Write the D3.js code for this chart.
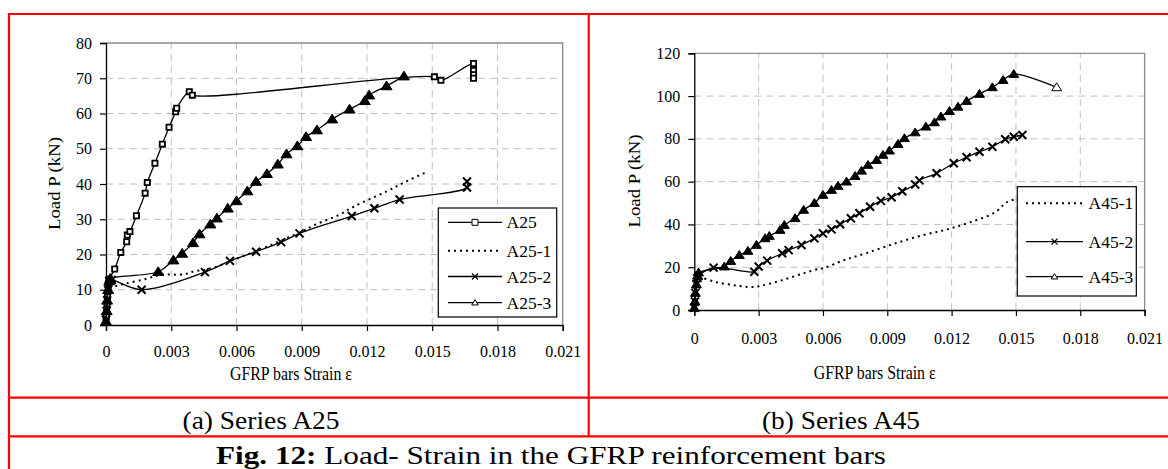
<!DOCTYPE html>
<html><head><meta charset="utf-8">
<script src="https://cdn.jsdelivr.net/npm/d3@7"></script>
<style>
html,body{margin:0;padding:0;background:#fff;}
svg{display:block;}
svg text{font-family:"Liberation Serif","Times New Roman",serif;}
</style></head>
<body>
<svg id="c" width="1168" height="469"></svg>
<script>
// ---------- DATA ----------
const xTicks = [0, 0.003, 0.006, 0.009, 0.012, 0.015, 0.018, 0.021];
const xTickLabels = ["0", "0.003", "0.006", "0.009", "0.012", "0.015", "0.018", "0.021"];
const yTicksA25 = [0, 10, 20, 30, 40, 50, 60, 70, 80];
const yTicksA45 = [0, 20, 40, 60, 80, 100, 120];

const seriesNamesA25 = ["A25", "A25-1", "A25-2", "A25-3"];
const seriesNamesA45 = ["A45-1", "A45-2", "A45-3"];

const A25_strain = [0,0.00002,0.00003,0.00005,0.00007,0.0001,0.00012,0.00015,0.0004,0.00068,0.00095,0.00098,0.0011,0.0014,0.0018,0.0019,0.00225,0.00259,0.0029,0.0032,0.00325,0.00383,0.00397,0.0151,0.0154,0.0169,0.0169,0.0169,0.0169];
const A25_load   = [1,2.5,4,6,8,10,12,13,15.9,20.6,23.6,25.5,26.5,31,37.4,40.4,45.9,51.3,56.1,60.5,61.5,66.2,65.2,70.4,69.4,74.2,72.2,71,70];

const A25_1_strain = [0,0.00003,0.00005,0.0001,0.0002,0.0004,0.0009,0.0018,0.0025,0.0036,0.0041,0.0047,0.006,0.0075,0.009,0.0096,0.0107,0.0114,0.0129,0.0137,0.0146,0.0148];
const A25_1_load   = [2,5,8,11,12,11.1,11.8,13,14.2,14.4,15.3,15.8,18.8,22.5,26.5,28.4,31.2,33.6,37.9,40.4,43,43.5];

const A25_2_strain = [0,0.00003,0.00005,0.0001,0.00015,0.00026,0.00164,0.00455,0.0057,0.0069,0.00805,0.0089,0.0113,0.01234,0.0135,0.0166,0.0166];
const A25_2_load   = [1.5,4,7,10,12.5,12.8,10,15,18.2,20.8,23.5,26,30.9,33.1,35.6,39,40.7];

const A25_3_strain = [0,0.00003,0.00005,0.0001,0.00015,0.0002,0.0024,0.0031,0.0035,0.004,0.0043,0.0048,0.0051,0.0056,0.006,0.0065,0.0069,0.0074,0.0079,0.0083,0.0088,0.0092,0.0097,0.0104,0.0112,0.0119,0.0121,0.0129,0.0137];
const A25_3_load   = [1,4,7,10,12.5,13.2,15.1,18.4,20.3,23.3,25.8,28.6,30.3,33.1,35.2,38,40.7,42.9,45.6,48.5,50.8,53.4,55.3,58.4,61.2,63.6,65.2,67.8,70.6];

const A45_1_strain = [0,0.00003,0.00005,0.0001,0.0002,0.0011,0.002,0.0027,0.0036,0.0056,0.0061,0.007,0.008,0.0093,0.0107,0.0118,0.0128,0.014,0.0146,0.015];
const A45_1_load   = [1,4,8,12,14.8,12.8,11.4,10.7,12.5,18.7,19.8,23.4,26.5,30.9,35.1,37.7,40.8,45.5,50.6,51.8];

const A45_2_strain = [0,0.00003,0.00005,0.0001,0.00015,0.0002,0.0009,0.0028,0.003,0.0034,0.0041,0.0044,0.005,0.0056,0.006,0.0064,0.0068,0.0073,0.0077,0.0082,0.0087,0.0092,0.0097,0.0103,0.0105,0.0113,0.0121,0.0127,0.0133,0.0139,0.0145,0.0149,0.0153];
const A45_2_load   = [1,4,8,12,15,16,19.8,17.9,20.3,23.1,26.5,28,30.4,33.5,35.8,37.7,40.1,42.9,45.2,48.3,51,52.7,55.5,58.7,60.6,63.9,68.6,71.4,74,76.3,79.8,81,81.8];

const A45_3_strain = [0,0.00003,0.00005,0.0001,0.00015,0.0002,0.0014,0.0017,0.0021,0.0025,0.0029,0.0033,0.0035,0.004,0.0042,0.0047,0.0051,0.0056,0.006,0.0064,0.0067,0.0071,0.0075,0.0078,0.0081,0.0085,0.0088,0.0091,0.0095,0.0098,0.0103,0.0108,0.0112,0.0115,0.0119,0.0123,0.0127,0.0133,0.0139,0.0144,0.0149,0.0169];
const A45_3_load   = [1,4,8,12,16,17.5,20.3,22.9,25.7,27.6,30.4,33.5,34.6,37.4,39.7,42.9,46.8,50,53.8,56.1,58,60,62.6,65.1,67.8,70.1,72.5,74.5,77.6,80.3,83,85.7,87.7,90.4,93,95,97.7,101,104.1,107.5,110.3,104.1];

// ---------- DRAWING ----------
const svg = d3.select("#c");
const RED = "#ff0000";
const FONT = "Liberation Serif";

function zip(xs, ys){ return xs.map((x,i)=>[x, ys[i]]); }

function markerPath(type, s){
  if(type==="square") return `M${-s},${-s}h${2*s}v${2*s}h${-2*s}Z`;
  if(type==="triangle") return `M0,${-s}L${s*1.1},${s*0.75}L${-s*1.1},${s*0.75}Z`;
  if(type==="x") return `M${-s},${-s}L${s},${s}M${-s},${s}L${s},${-s}`;
  return "";
}
function drawMarker(g, type, x, y, s, hollow){
  const p = g.append("path").attr("d", markerPath(type, s)).attr("transform", `translate(${x},${y})`)
    .attr("stroke", "#000");
  if(type==="square"){ p.attr("fill","#fff").attr("stroke-width", hollow?1:1.8); }
  else if(type==="triangle"){ p.attr("fill", hollow?"#fff":"#000").attr("stroke-width",1); }
  else { p.attr("fill","none").attr("stroke-width", hollow?1.2:2); }
}

function chart(cfg){
  const x = d3.scaleLinear().domain([0,0.021]).range([cfg.x0, cfg.x1]);
  const y = d3.scaleLinear().domain([0, cfg.ymax]).range([cfg.y0, cfg.y1]);
  const g = svg.append("g");

  // grid
  g.append("g").selectAll("line").data(cfg.yTicks.slice(1, -1)).join("line")
    .attr("x1", cfg.x0).attr("x2", cfg.x1).attr("y1", d=>y(d)).attr("y2", d=>y(d))
    .attr("stroke", "#c0c0c0").attr("stroke-width", 1).attr("stroke-dasharray", "7,5");
  g.append("g").selectAll("line").data(xTicks.slice(1, -1)).join("line")
    .attr("x1", d=>x(d)).attr("x2", d=>x(d)).attr("y1", cfg.y0).attr("y2", cfg.y1)
    .attr("stroke", "#c0c0c0").attr("stroke-width", 1).attr("stroke-dasharray", "7,5");

  // frame top/right
  g.append("path").attr("d", `M${cfg.x0},${cfg.y1}H${cfg.x1}V${cfg.y0}`)
    .attr("fill","none").attr("stroke","#8a8a8a").attr("stroke-width",1.3);

  // axes
  const ax = g.append("g").attr("transform", `translate(0,${cfg.y0})`)
    .call(d3.axisBottom(x).tickValues(xTicks).tickFormat((d,i)=>xTickLabels[i]).tickSizeOuter(0).tickSize(6).tickPadding(cfg.xPad));
  ax.attr("font-family", FONT);
  ax.select(".domain").attr("stroke","#000").attr("stroke-width",1.3);
  ax.selectAll(".tick line").attr("stroke","#000").attr("stroke-width",1.2);
  ax.selectAll(".tick text").attr("font-family",FONT).attr("font-size",16).attr("fill","#000");

  const ay = g.append("g").attr("transform", `translate(${cfg.x0},0)`)
    .call(d3.axisLeft(y).tickValues(cfg.yTicks).tickSizeOuter(0).tickSize(6).tickPadding(8));
  ay.attr("font-family", FONT);
  ay.select(".domain").attr("stroke","#000").attr("stroke-width",1.3);
  ay.selectAll(".tick line").attr("stroke","#000").attr("stroke-width",1.2);
  ay.selectAll(".tick text").attr("font-family",FONT).attr("font-size",16).attr("fill","#000");

  // series
  const line = d3.line().x(d=>x(d[0])).y(d=>y(d[1])).curve(d3.curveCatmullRom.alpha(0.5));
  cfg.series.forEach(s=>{
    const pts = zip(s.xs, s.ys);
    g.append("path").attr("d", line(pts)).attr("fill","none").attr("stroke","#000")
      .attr("stroke-width", s.dotted?2:1.3).attr("stroke-dasharray", s.dotted?"2,4":null);
    if(s.marker){
      const mg = g.append("g");
      pts.forEach((p,i)=>drawMarker(mg, s.marker, x(p[0]), y(p[1]), s.msize, s.hollowLast && i===pts.length-1));
    }
  });

  // legend
  const L = cfg.legend;
  const lg = g.append("g");
  lg.append("rect").attr("x",L.x).attr("y",L.y).attr("width",L.w).attr("height",L.h)
    .attr("fill","#fff").attr("stroke","#000").attr("stroke-width",1.2);
  cfg.series.forEach((s,i)=>{
    const yy = L.rows[i];
    lg.append("line").attr("x1",L.lx1).attr("x2",L.lx2).attr("y1",yy).attr("y2",yy)
      .attr("stroke","#000").attr("stroke-width", s.dotted?2:1.3).attr("stroke-dasharray", s.dotted?"2,4":null);
    if(s.marker) drawMarker(lg, s.marker, (L.lx1+L.lx2)/2, yy, 3, true);
    lg.append("text").attr("x",L.tx).attr("y",yy).attr("dy","0.35em").attr("font-family",FONT)
      .attr("font-size",17.5).text(s.name);
  });

  // axis titles
  g.append("text").attr("x", cfg.xt[0]).attr("y", cfg.xt[1]).attr("text-anchor","middle").attr("font-family",FONT)
    .attr("font-size",18).attr("textLength",122).attr("lengthAdjust","spacingAndGlyphs")
    .text("GFRP bars Strain ε");
  g.append("text").attr("transform", `translate(${cfg.yt[0]},${cfg.yt[1]}) rotate(-90)`)
    .attr("text-anchor","middle").attr("dy","0.35em").attr("font-family",FONT)
    .attr("font-size",17.5).attr("textLength",93).attr("lengthAdjust","spacingAndGlyphs")
    .text("Load P (kN)");
}

chart({
  x0:106, x1:562.7, y0:325, y1:43, ymax:80, yTicks:yTicksA25, xPad:15,
  xt:[291,380], yt:[54,183.5],
  series:[
    {name:seriesNamesA25[0], xs:A25_strain, ys:A25_load, marker:"square", msize:2.6},
    {name:seriesNamesA25[1], xs:A25_1_strain, ys:A25_1_load, dotted:true},
    {name:seriesNamesA25[2], xs:A25_2_strain, ys:A25_2_load, marker:"x", msize:4},
    {name:seriesNamesA25[3], xs:A25_3_strain, ys:A25_3_load, marker:"triangle", msize:5}
  ],
  legend:{x:438.3, y:208, w:118.4, h:109, lx1:448, lx2:502, tx:506.5, rows:[222.3,250.7,276.5,302.7]}
});

chart({
  x0:694.3, x1:1144.6, y0:310, y1:53.3, ymax:120, yTicks:yTicksA45, xPad:17,
  xt:[874.7,379], yt:[634,181],
  series:[
    {name:seriesNamesA45[0], xs:A45_1_strain, ys:A45_1_load, dotted:true},
    {name:seriesNamesA45[1], xs:A45_2_strain, ys:A45_2_load, marker:"x", msize:4},
    {name:seriesNamesA45[2], xs:A45_3_strain, ys:A45_3_load, marker:"triangle", msize:4.5, hollowLast:true}
  ],
  legend:{x:1017.3, y:186.7, w:119, h:109.3, lx1:1026, lx2:1083, tx:1088.5, rows:[203.3,241.7,276.7]}
});

// captions
svg.append("text").attr("x",261).attr("y",428.5).attr("text-anchor","middle").attr("font-family",FONT)
  .attr("font-size",26).attr("textLength",157).attr("lengthAdjust","spacingAndGlyphs").text("(a) Series A25");
svg.append("text").attr("x",841).attr("y",428.5).attr("text-anchor","middle").attr("font-family",FONT)
  .attr("font-size",26).attr("textLength",158).attr("lengthAdjust","spacingAndGlyphs").text("(b) Series A45");
const fig = svg.append("text").attr("x",551).attr("y",464).attr("text-anchor","middle").attr("font-family",FONT)
  .attr("font-size",26).attr("textLength",670).attr("lengthAdjust","spacingAndGlyphs");
fig.append("tspan").attr("font-weight","bold").text("Fig. 12:");
fig.append("tspan").text(" Load- Strain in the GFRP reinforcement bars");

// table borders (red)
const hLines = [14, 397.7, 436.3];
svg.append("g").selectAll("line").data(hLines).join("line")
  .attr("x1",8).attr("x2",1168).attr("y1",d=>d).attr("y2",d=>d)
  .attr("stroke",RED).attr("stroke-width",2.2);
const vLines = [[9,14,469],[588.7,14,436.3]];
svg.append("g").selectAll("line").data(vLines).join("line")
  .attr("x1",d=>d[0]).attr("x2",d=>d[0]).attr("y1",d=>d[1]).attr("y2",d=>d[2])
  .attr("stroke",RED).attr("stroke-width",2.2);
</script>
</body></html>
